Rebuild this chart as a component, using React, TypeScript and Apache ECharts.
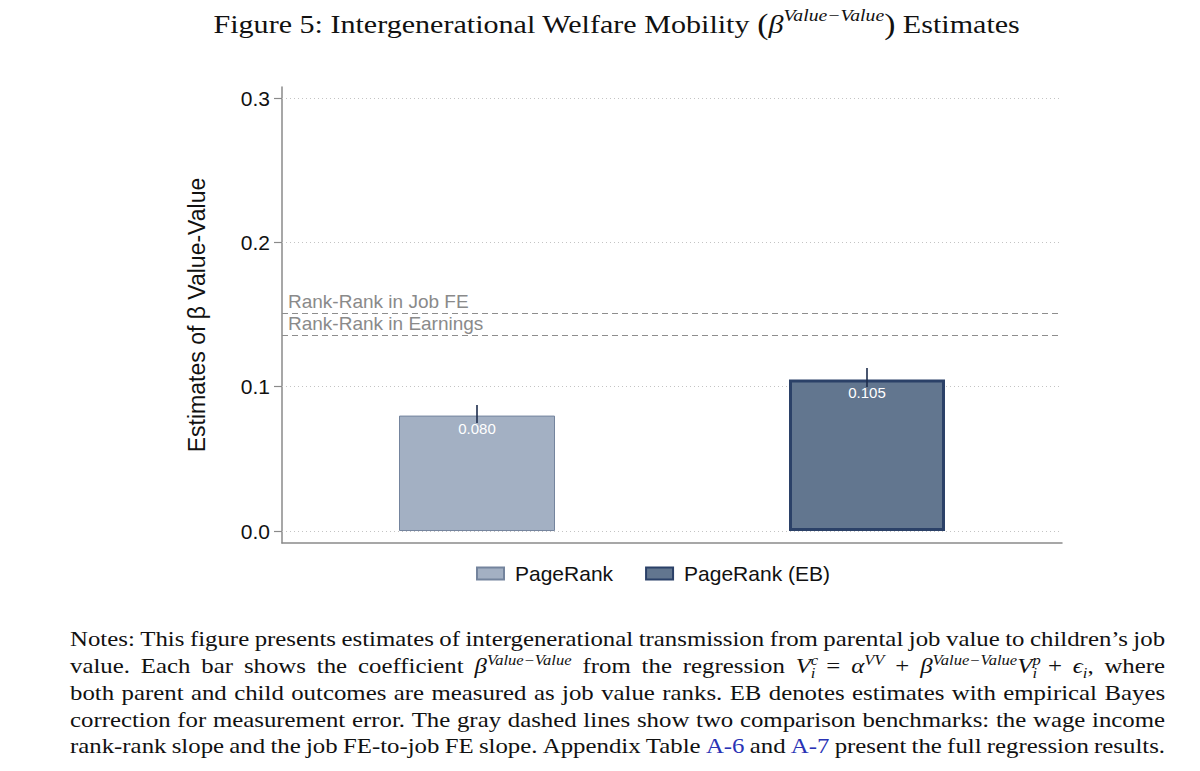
import React, { useEffect, useRef } from "react";
import * as echarts from "echarts";

// ---------- data ----------
const categories = ["PageRank", "PageRank (EB)"];
const estimates = [0.08, 0.105];
const ciLow = [0.0748, 0.0998];
const ciHigh = [0.0873, 0.113];
const benchmarkNames = ["Rank-Rank in Job FE", "Rank-Rank in Earnings"];
const benchmarkValues = [0.151, 0.136];
const yTicks = [0, 0.1, 0.2, 0.3];

// ---------- texts ----------
const yAxisName = "Estimates of \u03b2 Value-Value";
const titleFrags: [string, string][] = [
  ["n", "Figure 5: Intergenerational Welfare Mobility "],
  ["p", "("],
  ["it", "\u03b2"],
  ["sup", "Value\u2212Value"],
  ["p", ")"],
  ["n", " Estimates"],
];
const noteLines: [string, string][][] = [
  [["n", "Notes: This figure presents estimates of intergenerational transmission from parental job value to children\u2019s job"]],
  [
    ["n", "value. Each bar shows the coefficient "],
    ["i", "\u03b2"],
    ["sup", "Value\u2212Value"],
    ["n", " from the regression "],
    ["i", "V"],
    ["supz", "c"],
    ["sub", "i"],
    ["n", " = "],
    ["i", "\u03b1"],
    ["sup", "VV"],
    ["n", " + "],
    ["i", "\u03b2"],
    ["sup", "Value\u2212Value"],
    ["i", "V"],
    ["supz", "p"],
    ["sub", "i"],
    ["n", " + "],
    ["i", "\u03f5"],
    ["sub", "i"],
    ["n", ", where"],
  ],
  [["n", "both parent and child outcomes are measured as job value ranks. EB denotes estimates with empirical Bayes"]],
  [["n", "correction for measurement error. The gray dashed lines show two comparison benchmarks: the wage income"]],
  [
    ["n", "rank-rank slope and the job FE-to-job FE slope. Appendix Table "],
    ["bl", "A-6"],
    ["n", " and "],
    ["bl", "A-7"],
    ["n", " present the full regression results."],
  ],
];

const SANS = '"Liberation Sans", Arial, Helvetica, sans-serif';
const SERIF = '"Liberation Serif", "DejaVu Serif", serif';

export default function App() {
  const ref = useRef<HTMLDivElement>(null);

  useEffect(() => {
    document.body.style.margin = "0";
    if (!ref.current) return;
    const chart = echarts.init(ref.current, undefined, { renderer: "svg" });

    const canvas = document.createElement("canvas");
    const ctx = canvas.getContext("2d")!;
    const measure = (t: string, font: string) => {
      ctx.font = font;
      return ctx.measureText(t).width;
    };

    const NOTE_FS = 21;
    const NOTE_SUB = 14;
    const noteFonts: Record<string, string> = {
      n: `${NOTE_FS}px ${SERIF}`,
      bl: `${NOTE_FS}px ${SERIF}`,
      i: `italic ${NOTE_FS}px ${SERIF}`,
      sup: `italic ${NOTE_SUB}px ${SERIF}`,
      supz: `italic ${NOTE_SUB}px ${SERIF}`,
      sub: `italic ${NOTE_SUB}px ${SERIF}`,
    };
    const NOTE_LEFT = 70;
    const NOTE_W = 1095;
    const noteTops = [639, 666, 693, 720, 746.5];

    // common horizontal stretch so the serif resembles the wider original face
    const plainIdx = [0, 2, 3, 4];
    const ratios = plainIdx.map((li) => {
      const w = noteLines[li].reduce((acc, [st, t]) => acc + measure(t, noteFonts[st]), 0);
      return NOTE_W / w;
    });
    const noteScale = ratios.reduce((a, b) => a + b, 0) / ratios.length;
    const innerW = NOTE_W / noteScale;

    const noteGraphics = noteLines.map((frags, li) => {
      let used = 0;
      let spaces = 0;
      const parts: string[] = [];
      frags.forEach(([st, txt]) => {
        if (st === "n" || st === "bl") {
          txt.split(/( +)/).forEach((tok) => {
            if (!tok) return;
            if (/^ +$/.test(tok)) {
              spaces++;
              parts.push("{s| }");
            } else {
              used += measure(tok, noteFonts[st]);
              parts.push(`{${st}|${tok}}`);
            }
          });
        } else {
          if (st !== "supz") used += measure(txt, noteFonts[st]);
          parts.push(`{${st}|${txt}}`);
        }
      });
      const sw = spaces > 0 ? Math.max(2, (innerW - used) / spaces) : 5;
      return {
        type: "text",
        x: NOTE_LEFT,
        y: noteTops[li],
        scaleX: noteScale,
        style: {
          text: parts.join(""),
          align: "left",
          verticalAlign: "middle",
          fontFamily: SERIF,
          fontSize: NOTE_FS,
          fill: "#111",
          rich: {
            n: { fontFamily: SERIF, fontSize: NOTE_FS, fill: "#111", lineHeight: 27 },
            bl: { fontFamily: SERIF, fontSize: NOTE_FS, fill: "#2a33b5", lineHeight: 27 },
            i: { fontFamily: SERIF, fontSize: NOTE_FS, fontStyle: "italic", fill: "#111", lineHeight: 27 },
            sup: { fontFamily: SERIF, fontSize: NOTE_SUB, fontStyle: "italic", fill: "#111", lineHeight: 14, verticalAlign: "top" },
            supz: { fontFamily: SERIF, fontSize: NOTE_SUB, fontStyle: "italic", fill: "#111", lineHeight: 14, verticalAlign: "top", width: 0 },
            sub: { fontFamily: SERIF, fontSize: NOTE_SUB, fontStyle: "italic", fill: "#111", lineHeight: 14, verticalAlign: "bottom" },
            s: { fontFamily: SERIF, fontSize: NOTE_FS, lineHeight: 27, width: sw },
          },
        },
      };
    });

    // title
    const TITLE_FS = 26;
    const titleFonts: Record<string, string> = {
      n: `${TITLE_FS}px ${SERIF}`,
      p: `29px ${SERIF}`,
      it: `italic ${TITLE_FS}px ${SERIF}`,
      sup: `italic 17px ${SERIF}`,
    };
    const titleW = titleFrags.reduce((acc, [st, t]) => acc + measure(t, titleFonts[st]), 0);
    const titleScale = 807 / titleW;
    const titleText = titleFrags.map(([st, t]) => `{${st}|${t}}`).join("");

    const barStyles = [
      { color: "#a3b0c3", borderColor: "#74849d", borderWidth: 1 },
      { color: "#62768f", borderColor: "#2b4168", borderWidth: 3 },
    ];

    const barSeries = categories.map((name, k) => ({
      name,
      type: "bar",
      data: estimates.map((v, i) => (i === k ? v : "-")),
      barWidth: "40%",
      barGap: "-100%",
      z: 2,
      itemStyle: barStyles[k],
      label: {
        show: true,
        position: "insideTop",
        distance: 5,
        color: "#ffffff",
        fontSize: 15,
        fontFamily: SANS,
        formatter: (p: any) => Number(p.value).toFixed(3),
      },
      markLine:
        k === 0
          ? {
              silent: true,
              precision: 4,
              symbol: ["none", "none"],
              z: 3,
              lineStyle: { type: [6, 4], color: "#8e8e8e", width: 1.2 },
              label: {
                show: true,
                position: "insideStartTop",
                distance: [6, 2],
                formatter: "{b}",
                color: "#8a8a8a",
                fontSize: 19,
                fontFamily: SANS,
              },
              emphasis: { disabled: true },
              data: benchmarkNames.map((n, i) => ({ name: n, yAxis: benchmarkValues[i] })),
            }
          : {
              silent: true,
              precision: 4,
              symbol: ["none", "none"],
              z: 1,
              lineStyle: { type: [1, 3], color: "#c4c4c4", width: 1 },
              label: { show: false },
              emphasis: { disabled: true },
              data: yTicks.map((v) => ({ yAxis: v })),
            },
    }));

    const errorSeries = {
      type: "custom",
      name: "CI",
      z: 4,
      silent: true,
      data: estimates.map((_, i) => [i, ciLow[i], ciHigh[i]]),
      encode: { x: 0, y: [1, 2] },
      renderItem: (_params: any, api: any) => {
        const x = api.value(0);
        const lo = api.coord([x, api.value(1)]);
        const hi = api.coord([x, api.value(2)]);
        return {
          type: "line",
          shape: { x1: lo[0], y1: lo[1], x2: hi[0], y2: hi[1] },
          style: { stroke: "#1d2c4c", lineWidth: 1.6 },
        };
      },
    };

    chart.setOption({
      animation: false,
      backgroundColor: "#ffffff",
      textStyle: { fontFamily: SANS },
      grid: { left: 282, right: 138, top: 87, bottom: 228 },
      legend: {
        data: categories,
        left: 476,
        top: 563,
        padding: 0,
        icon: "rect",
        itemWidth: 27,
        itemHeight: 12,
        itemGap: 32,
        selectedMode: false,
        textStyle: { fontSize: 21, color: "#111", fontFamily: SANS, padding: [0, 0, 0, 6] },
      },
      xAxis: {
        type: "category",
        data: categories,
        axisLine: { show: true, onZero: false, lineStyle: { color: "#8a8a8a", width: 1.5 } },
        axisTick: { show: false },
        axisLabel: { show: false },
        splitLine: { show: false },
      },
      yAxis: {
        type: "value",
        min: -0.0083,
        max: 0.3077,
        name: yAxisName,
        nameLocation: "middle",
        nameGap: 74,
        nameTextStyle: { fontSize: 23, color: "#111", fontFamily: SANS },
        axisLine: { show: true, lineStyle: { color: "#8a8a8a", width: 1.5 } },
        axisTick: { show: true, length: 8, customValues: yTicks, lineStyle: { color: "#8a8a8a", width: 1.2 } },
        axisLabel: {
          customValues: yTicks,
          margin: 12,
          fontSize: 21,
          color: "#111",
          fontFamily: SANS,
          formatter: (v: number) => v.toFixed(1),
        },
        splitLine: { show: false },
      },
      series: [...barSeries, errorSeries],
      graphic: [
        {
          type: "text",
          x: 616.5,
          y: 24,
          scaleX: titleScale,
          style: {
            text: titleText,
            align: "center",
            verticalAlign: "middle",
            fontFamily: SERIF,
            fontSize: TITLE_FS,
            fill: "#111",
            rich: {
              n: { fontFamily: SERIF, fontSize: TITLE_FS, fill: "#111", lineHeight: 34 },
              p: { fontFamily: SERIF, fontSize: 29, fill: "#111", lineHeight: 34 },
              it: { fontFamily: SERIF, fontSize: TITLE_FS, fontStyle: "italic", fill: "#111", lineHeight: 34 },
              sup: { fontFamily: SERIF, fontSize: 17, fontStyle: "italic", fill: "#111", lineHeight: 17, verticalAlign: "top" },
            },
          },
        },
        ...noteGraphics,
      ],
    });

    return () => chart.dispose();
  }, []);

  return <div ref={ref} style={{ width: 1200, height: 771 }} />;
}
